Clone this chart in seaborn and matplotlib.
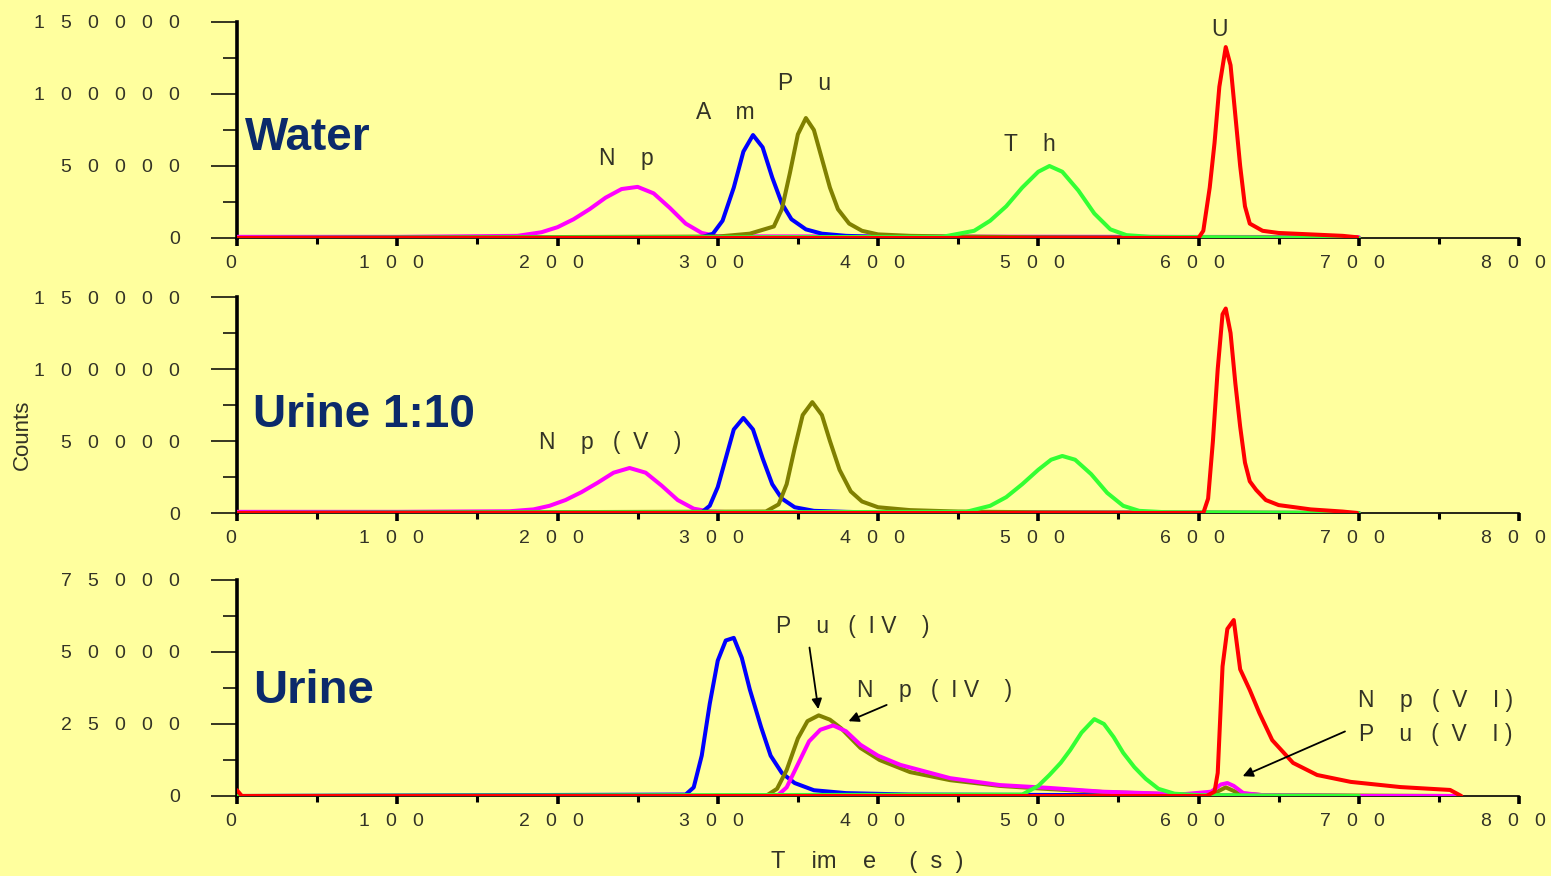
import numpy as np
import pandas as pd
import matplotlib
matplotlib.use("Agg")
import matplotlib.pyplot as plt
import matplotlib.transforms as mtransforms
from matplotlib.ticker import FixedLocator, FuncFormatter
import seaborn as sns

# Plot configurations
BG = "#FFFF9E"
NAVY = "#0B2A6B"
TXT = "#333326"
COLORS = {"Np": "#FF00FF", "Am": "#0000FF", "Pu": "#808000", "Th": "#33FF33", "U": "#FF0000"}

# ---- Water panel ----
water_np_t = [0, 100, 175, 190, 200, 210, 220, 230, 240, 250, 260, 270, 280, 290, 300, 700]
water_np_c = [800, 800, 1500, 4000, 7500, 13000, 20000, 28000, 34000, 35500, 31000, 21000, 10000, 3500, 1200, 600]
water_am_t = [0, 290, 297, 303, 310, 316, 322, 328, 334, 340, 346, 355, 365, 380, 400, 450, 700]
water_am_c = [0, 500, 3000, 12000, 35000, 60000, 71500, 63000, 42000, 24000, 13000, 6000, 3000, 1500, 800, 300, 0]
water_pu_t = [0, 300, 320, 335, 340, 345, 350, 355, 360, 365, 370, 375, 382, 390, 400, 420, 450, 500, 700]
water_pu_c = [0, 1000, 3000, 8000, 20000, 45000, 72000, 83300, 75000, 55000, 35000, 20000, 10000, 5000, 2500, 1500, 1000, 500, 0]
water_th_t = [0, 440, 460, 470, 480, 490, 500, 507, 515, 525, 535, 545, 555, 570, 700]
water_th_c = [0, 800, 5000, 12000, 22000, 35000, 46000, 50000, 46000, 33000, 17000, 6000, 2000, 800, 0]
water_u_t = [0, 600, 603, 607, 610, 613, 617, 620, 623, 626, 629, 632, 640, 650, 670, 690, 699]
water_u_c = [0, 0, 5000, 35000, 66000, 105000, 132600, 120000, 85000, 50000, 22000, 10000, 5000, 3500, 2500, 1500, 500]

# ---- Urine 1:10 panel ----
dil_np_t = [0, 100, 170, 185, 195, 205, 215, 225, 235, 245, 255, 265, 275, 285, 295, 310, 700]
dil_np_c = [800, 800, 1200, 2500, 5000, 9000, 14500, 21000, 28000, 31250, 28000, 19000, 9000, 3000, 1000, 500, 0]
dil_am_t = [0, 290, 295, 300, 305, 310, 316, 322, 328, 334, 340, 348, 360, 380, 400, 700]
dil_am_c = [0, 500, 5000, 18000, 38000, 58000, 66000, 58000, 38000, 20000, 10000, 4000, 1500, 800, 300, 0]
dil_pu_t = [0, 330, 338, 343, 348, 353, 359, 365, 370, 376, 383, 390, 400, 420, 450, 500, 700]
dil_pu_c = [0, 1000, 6000, 20000, 45000, 68000, 77000, 68000, 50000, 30000, 15000, 8000, 4000, 2000, 1000, 500, 0]
dil_th_t = [0, 455, 470, 480, 490, 500, 508, 515, 523, 533, 543, 553, 563, 580, 700]
dil_th_c = [0, 800, 5000, 11000, 20000, 30000, 37000, 39600, 37000, 27000, 14000, 5000, 1500, 500, 0]
dil_u_t = [0, 603, 606, 609, 612, 615, 617, 620, 623, 626, 629, 632, 636, 642, 650, 670, 690, 699]
dil_u_c = [0, 0, 10000, 50000, 100000, 138000, 142000, 125000, 90000, 60000, 35000, 22000, 16000, 9000, 5500, 2500, 1000, 0]

# ---- Urine panel ----
uri_am_t = [0, 280, 285, 290, 295, 300, 305, 310, 315, 320, 327, 333, 340, 348, 360, 380, 420, 600, 700, 760]
uri_am_c = [0, 500, 3000, 14000, 32000, 47000, 54000, 54900, 48000, 37000, 24000, 14000, 8000, 4500, 2000, 1000, 500, 200, 0, 0]
uri_pu_t = [0, 330, 337, 343, 350, 356, 363, 370, 377, 389, 401, 420, 445, 476, 507, 540, 590, 610, 617, 625, 640, 760]
uri_pu_c = [0, 0, 2500, 9000, 20000, 26000, 28000, 26500, 23500, 16700, 12500, 8300, 5500, 3500, 2400, 1400, 500, 1000, 3000, 1000, 300, 0]
uri_np_t = [0, 337, 343, 350, 357, 364, 372, 380, 389, 400, 414, 445, 476, 507, 540, 590, 608, 614, 618, 622, 628, 640, 700, 760]
uri_np_c = [0, 0, 3000, 11000, 19000, 23000, 24500, 22500, 17800, 14000, 10800, 6200, 3800, 2800, 1500, 600, 1500, 4000, 4500, 3500, 1000, 300, 0, 0]
uri_th_t = [0, 490, 500, 507, 514, 520, 527, 535, 541, 547, 553, 560, 567, 575, 585, 600, 700]
uri_th_c = [0, 500, 3500, 7300, 11500, 16000, 22000, 26700, 25000, 20500, 15000, 10000, 6000, 2500, 800, 300, 0]
uri_u_t = [0, 3, 605, 610, 612, 615, 618, 622, 626, 632, 638, 646, 659, 674, 695, 726, 757, 764]
uri_u_c = [2000, 0, 0, 1500, 8000, 45000, 58000, 61100, 44000, 36800, 28800, 19400, 11500, 7300, 4900, 3100, 2100, 0]

panels = [
    {"name": "Water", "ymax": 150000, "ystep": 50000, "size": 33,
     "curves": [("Np", water_np_t, water_np_c), ("Am", water_am_t, water_am_c),
                ("Pu", water_pu_t, water_pu_c), ("Th", water_th_t, water_th_c),
                ("U", water_u_t, water_u_c)],
     "label_x": 5, "label_y": 61000},
    {"name": "Urine 1:10", "ymax": 150000, "ystep": 50000, "size": 33,
     "curves": [("Np", dil_np_t, dil_np_c), ("Am", dil_am_t, dil_am_c),
                ("Pu", dil_pu_t, dil_pu_c), ("Th", dil_th_t, dil_th_c),
                ("U", dil_u_t, dil_u_c)],
     "label_x": 10, "label_y": 60000},
    {"name": "Urine", "ymax": 75000, "ystep": 25000, "size": 34,
     "curves": [("Am", uri_am_t, uri_am_c), ("Pu", uri_pu_t, uri_pu_c),
                ("Np", uri_np_t, uri_np_c), ("Th", uri_th_t, uri_th_c),
                ("U", uri_u_t, uri_u_c)],
     "label_x": 10, "label_y": 32300},
]


def spaced(v, pos=None):
    '''Spread the digits of a tick value like the original instrument plot.'''
    return "   ".join(str(int(round(v))))


sns.set_theme(style="white")
plt.rcParams["font.family"] = ["Liberation Sans", "DejaVu Sans"]

fig = plt.figure(figsize=(15.51, 8.76), dpi=100, facecolor=BG)
left, width, height = 237 / 1551, (1519 - 237) / 1551, 216 / 876
bottoms = [1 - 238 / 876, 1 - 513 / 876, 1 - 796 / 876]
shift = mtransforms.ScaledTranslation(-6 / 100, 0, fig.dpi_scale_trans)

axes = []
for p, b in zip(panels, bottoms):
    ax = fig.add_axes([left, b, width, height])
    ax.set_facecolor(BG)
    rows = []
    for name, ts, cs in p["curves"]:
        for t, c in zip(ts, cs):
            rows.append({"time": t, "counts": c, "element": name})
    df = pd.DataFrame(rows)
    sns.lineplot(data=df, x="time", y="counts", hue="element", palette=COLORS,
                 estimator=None, sort=False, linewidth=2.9, legend=False,
                 ax=ax, zorder=3)

    ax.set_xlim(0, 800)
    ax.set_ylim(0, p["ymax"])
    for s in ["top", "right"]:
        ax.spines[s].set_visible(False)
    ax.spines["left"].set_linewidth(2.6)
    ax.spines["bottom"].set_linewidth(1.2)
    ax.spines["left"].set_color("black")
    ax.spines["bottom"].set_color("black")
    ax.spines["bottom"].set_zorder(1)

    ax.xaxis.set_major_locator(FixedLocator(np.arange(0, 801, 100)))
    ax.xaxis.set_minor_locator(FixedLocator(np.arange(50, 800, 100)))
    ax.yaxis.set_major_locator(FixedLocator(np.arange(0, p["ymax"] + 1, p["ystep"])))
    ax.yaxis.set_minor_locator(FixedLocator(np.arange(p["ystep"] / 2, p["ymax"], p["ystep"])))
    ax.xaxis.set_major_formatter(FuncFormatter(spaced))
    ax.yaxis.set_major_formatter(FuncFormatter(spaced))
    ax.tick_params(axis="x", which="major", direction="out", length=6, width=2.6,
                   color="black", pad=6, labelsize=14, labelcolor=TXT, bottom=True)
    ax.tick_params(axis="x", which="minor", direction="out", length=4, width=2.2,
                   color="black", bottom=True)
    ax.tick_params(axis="y", which="major", direction="out", length=19, width=1.1,
                   color="black", pad=22, labelsize=14, labelcolor=TXT, left=True)
    ax.tick_params(axis="y", which="minor", direction="out", length=10, width=1.1,
                   color="black", left=True)
    for tl in ax.get_xticklabels():
        tl.set_transform(tl.get_transform() + shift)
    ax.set_xlabel("")
    ax.set_ylabel("")
    ax.text(p["label_x"], p["label_y"], p["name"], color=NAVY,
            fontsize=p["size"], fontweight="bold", va="baseline", ha="left")
    axes.append(ax)

lab = dict(fontsize=16.5, color=TXT, ha="center", va="center")
ax1, ax2, ax3 = axes
ax1.text(243, 55000, "N    p", **lab)
ax1.text(305, 87000, "A    m", **lab)
ax1.text(354, 107500, "P    u", **lab)
ax1.text(495, 65000, "T    h", **lab)
ax1.text(613, 145000, "U", **lab)

ax2.text(233, 49000, "N    p   (  V    )", **lab)

ax3.text(384, 59000, "P    u   (  I V    )", **lab)
ax3.text(435, 36700, "N    p   (  I V    )", **lab)
ax3.text(748, 33000, "N    p   (  V    I )", **lab)
ax3.text(748, 21500, "P    u   (  V    I )", **lab)
arrow = dict(arrowstyle="-|>", color="black", lw=1.3, mutation_scale=15)
ax3.annotate("", xy=(363, 29200), xytext=(357, 52500), arrowprops=arrow)
ax3.annotate("", xy=(380, 25600), xytext=(407, 32000), arrowprops=arrow)
ax3.annotate("", xy=(626, 6500), xytext=(693, 22800), arrowprops=arrow)

fig.text(22 / 1551, 1 - 435 / 876, "Counts", rotation=90, fontsize=16,
         color=TXT, ha="center", va="center")
fig.text(867 / 1551, 1 - 862 / 876, "T    im    e     (  s  )", fontsize=17,
         color=TXT, ha="center", va="center")

fig.savefig("out.png", dpi=100, facecolor=BG)
